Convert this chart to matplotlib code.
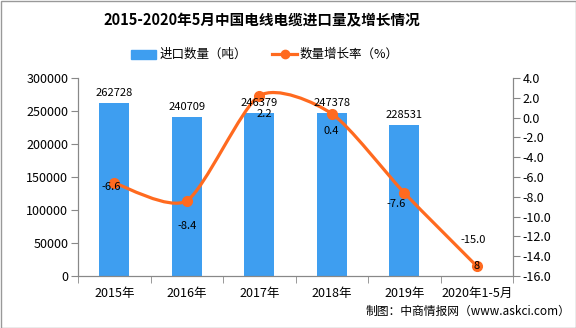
import matplotlib
matplotlib.use("Agg")
import matplotlib.pyplot as plt
from matplotlib.path import Path
from matplotlib.patches import PathPatch, Rectangle
from matplotlib.lines import Line2D
import numpy as np

plt.rcParams['font.family'] = ['Noto Sans CJK SC', 'DejaVu Sans']

categories = ["2015年", "2016年", "2017年", "2018年", "2019年", "2020年1-5月"]
import_volume = [262728, 240709, 246379, 247378, 228531, 8]
growth_rate = [-6.6, -8.4, 2.2, 0.4, -7.6, -15.0]

title = "2015-2020年5月中国电线电缆进口量及增长情况"
bar_name = "进口数量（吨）"
line_name = "数量增长率（%）"
source = "制图：中商情报网（www.askci.com）"

bar_color = "#3e9ef0"
line_color = "#ff6a1f"
axis_color = "#888888"

fig = plt.figure(figsize=(5.76, 3.28), dpi=100)
W, H = 576, 328
ax = fig.add_axes([78 / W, 1 - 276 / H, (513 - 78) / W, (276 - 78) / H])
ax2 = ax.twinx()

x = np.arange(len(categories))
ax.bar(x, import_volume, width=0.41, color=bar_color, zorder=2)
ax.set_xlim(-0.5, len(categories) - 0.5)
ax.set_ylim(0, 300000)
ax.set_yticks(np.arange(0, 300001, 50000))
ax.set_xticks(x)
ax.set_xticklabels(categories, fontsize=9)
ax.set_xticks(np.arange(-0.5, len(categories), 1.0), minor=True)
ax.tick_params(axis='x', which='major', length=0, pad=8)
ax.tick_params(axis='x', which='minor', length=5, color=axis_color, direction='out')
ax.tick_params(axis='y', length=5, color=axis_color, labelsize=9, pad=2)

ax2.set_ylim(-16, 4)
ax2.set_yticks(np.arange(-16, 4.1, 2))
ax2.set_yticklabels([f"{t:.1f}" for t in np.arange(-16, 4.1, 2)])
ax2.tick_params(axis='y', length=5, color=axis_color, labelsize=9, pad=2)

for a in (ax, ax2):
    a.spines['top'].set_visible(False)
    a.spines['left'].set_color(axis_color)
    a.spines['right'].set_color(axis_color)
    a.spines['bottom'].set_color(axis_color)

# smooth line (cubic Bezier through the data points)
pts = np.column_stack([x, growth_rate]).astype(float)
n = len(pts)
s = 0.12
verts = [pts[0]]
codes = [Path.MOVETO]
for i in range(n - 1):
    p0 = pts[i - 1] if i > 0 else pts[i]
    p1 = pts[i]
    p2 = pts[i + 1]
    p3 = pts[i + 2] if i + 2 < n else pts[i + 1]
    c1 = p1 + (p2 - p0) * s
    c2 = p2 - (p3 - p1) * s
    verts += [c1, c2, p2]
    codes += [Path.CURVE4] * 3
ax2.add_patch(PathPatch(Path(verts, codes), facecolor='none', edgecolor=line_color,
                        lw=2.3, zorder=3))
ax2.plot(x, growth_rate, linestyle='none', marker='o', markersize=7,
         color=line_color, zorder=4)

for xi, v in zip(x, import_volume):
    ax2.annotate(f"{v}", (xi, v), xycoords=ax.transData, xytext=(0, 10),
                 textcoords='offset pixels', ha='center', va='center', fontsize=8,
                 zorder=6)

offsets = [(-3, -4), (0, -25), (5, -18), (0, -17), (-8, -11), (-4, 26)]
for xi, v, (dx, dy) in zip(x, growth_rate, offsets):
    ax2.annotate(f"{v:.1f}", (xi, v), xytext=(dx, dy), textcoords='offset pixels',
                 ha='center', va='center', fontsize=8, zorder=5)

fig.text(262 / W, 1 - 20 / H, title, ha='center', va='center', fontsize=10.5,
         fontweight='bold')

# legend
fig.patches.append(Rectangle((131 / W, 1 - 59 / H), 25 / W, 9 / H, color=bar_color,
                             transform=fig.transFigure))
fig.text(160 / W, 1 - 54 / H, bar_name, ha='left', va='center', fontsize=9)
fig.lines.append(Line2D([272 / W, 297 / W], [1 - 54 / H, 1 - 54 / H], color=line_color,
                        lw=2.3, transform=fig.transFigure))
fig.lines.append(Line2D([284.5 / W], [1 - 54 / H], color=line_color, marker='o',
                        markersize=6, transform=fig.transFigure))
fig.text(300 / W, 1 - 54 / H, line_name, ha='left', va='center', fontsize=9)

fig.text(570 / W, 1 - 311 / H, source, ha='right', va='center', fontsize=8.5)

fig.patches.append(Rectangle((0.5 / W, 0.5 / H), (W - 1) / W, (H - 1) / H, fill=False,
                             edgecolor='#999999', lw=1, transform=fig.transFigure))

fig.savefig("out.png", dpi=100)
